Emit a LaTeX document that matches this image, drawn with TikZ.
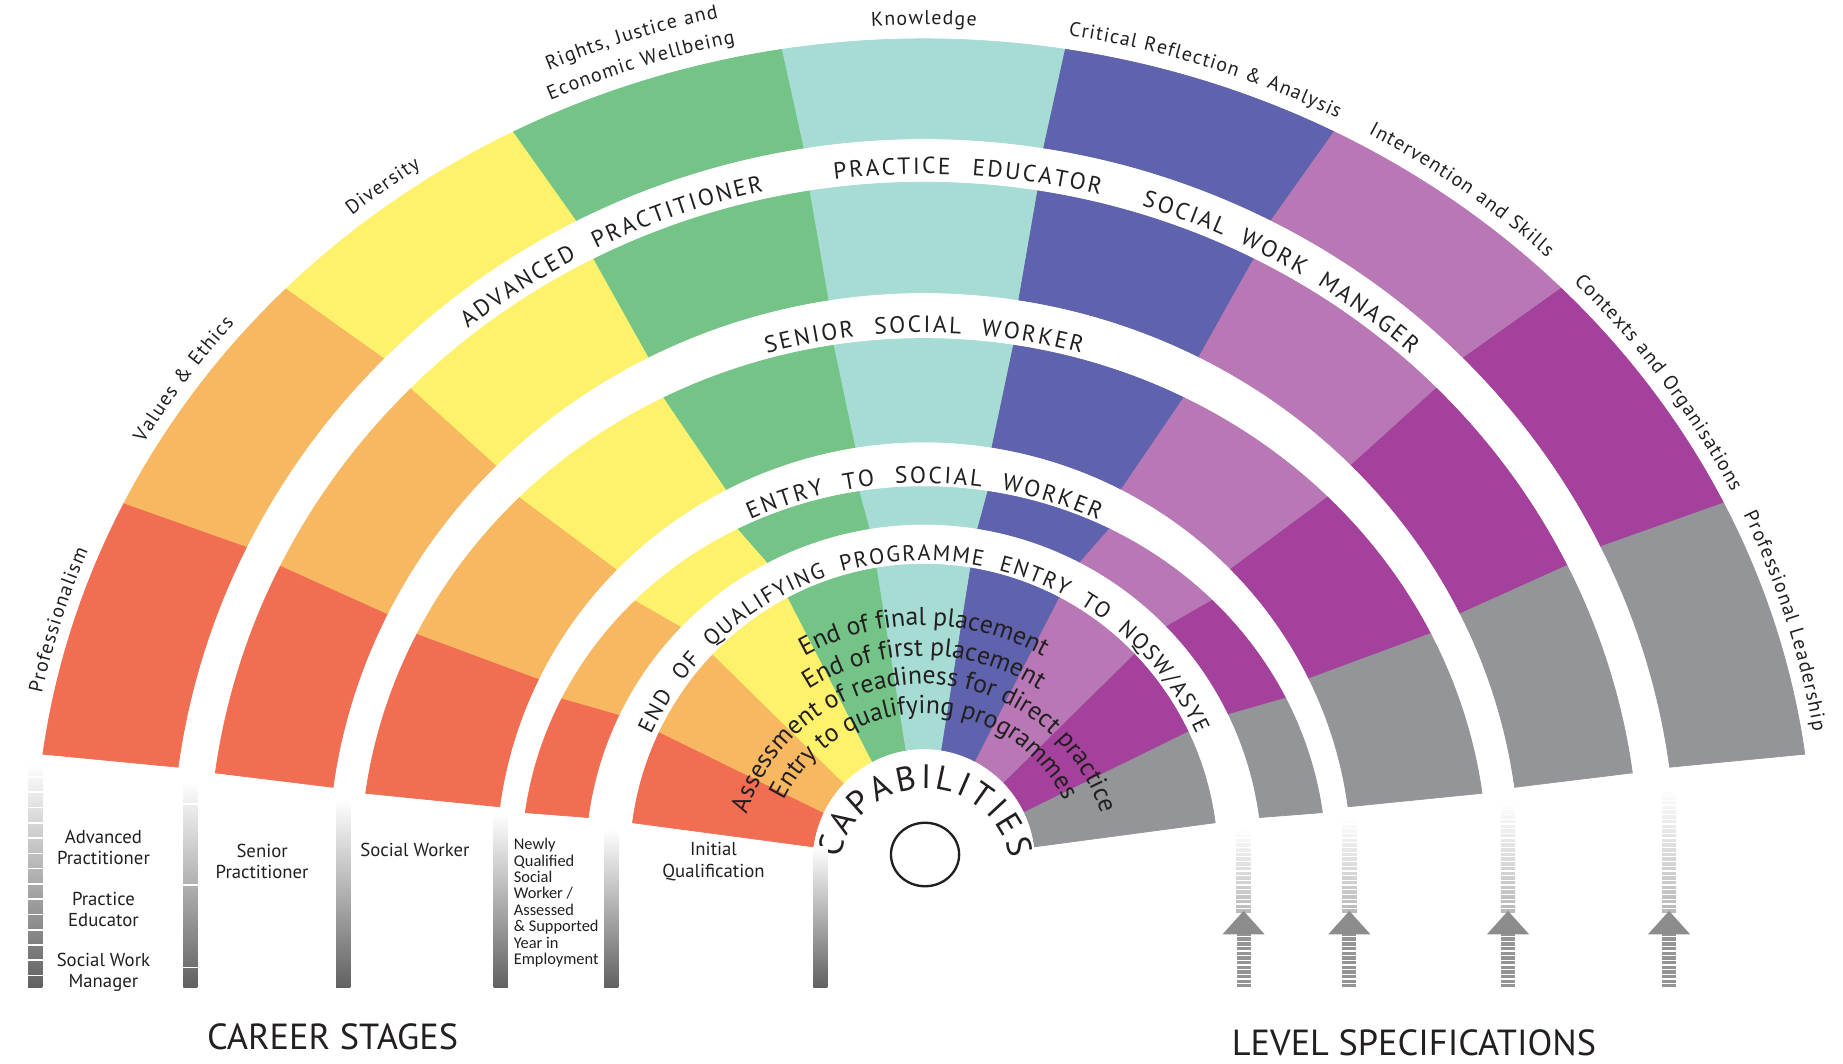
\documentclass[tikz,border=0pt]{standalone}
\usepackage{fontspec}
\setmainfont{PT Sans}
\setsansfont{PT Sans}
\newfontfamily\pcfCond{Carlito}
\definecolor{cRed}{HTML}{F26E52}
\definecolor{cOrange}{HTML}{F8B862}
\definecolor{cYellow}{HTML}{FEF16B}
\definecolor{cGreen}{HTML}{74C487}
\definecolor{cTeal}{HTML}{A6DCD3}
\definecolor{cIndigo}{HTML}{5F62AD}
\definecolor{cLilac}{HTML}{B878B5}
\definecolor{cPurple}{HTML}{A4419C}
\definecolor{cGray}{HTML}{939598}
\definecolor{cText}{HTML}{231F20}
\newcommand\pcfDom{\fontsize{17}{17}\selectfont}
\newcommand\pcfRing{\fontsize{20}{20}\selectfont}
\newcommand\pcfRingS{\fontsize{19}{19}\selectfont}
\newcommand\pcfInner{\fontsize{22}{22}\selectfont}
\newcommand\pcfCap{\fontsize{29}{29}\selectfont}

\ExplSyntaxOn
\fp_new:N \l__pcf_t_fp
\fp_new:N \l__pcf_w_fp
\fp_new:N \l__pcf_tot_fp
\fp_new:N \l__pcf_tc_fp
\box_new:N \l__pcf_char_box
\tl_new:N \l__pcf_font_tl
\tl_new:N \l__pcf_x_tl
\tl_new:N \l__pcf_y_tl
\tl_new:N \l__pcf_r_tl
\cs_new_protected:Npn \__pcf_measure:n #1
  {
    \hbox_set:Nn \l__pcf_char_box
      { \pgfinterruptpicture \l__pcf_font_tl #1 \endpgfinterruptpicture }
    \fp_set:Nn \l__pcf_w_fp { \dim_to_fp:n { \box_wd:N \l__pcf_char_box } * 72 / 72.27 }
  }
% #1 x radius, #2 y radius, #3 middle angle, #4 extra letter space,
% #5 extra word space, #6 font, #7 text  (text runs clockwise, baseline on the ellipse)
\NewDocumentCommand \ArcText { m m m m m m m }
  {
    \tl_set:Nn \l__pcf_font_tl {#6}
    \fp_zero:N \l__pcf_tot_fp
    \str_map_inline:nn {#7}
      {
        \__pcf_measure:n {##1}
        \fp_add:Nn \l__pcf_tot_fp { \l__pcf_w_fp + #4 }
        \tl_if_blank:nT {##1} { \fp_add:Nn \l__pcf_tot_fp {#5} }
      }
    \fp_sub:Nn \l__pcf_tot_fp {#4}
    \fp_set:Nn \l__pcf_t_fp
      { #3 + (\l__pcf_tot_fp / 2) / sqrt( ((#1)*sind(#3))^2 + ((#2)*cosd(#3))^2 ) * 180 / pi }
    \str_map_inline:nn {#7}
      {
        \__pcf_measure:n {##1}
        \tl_if_blank:nT {##1} { \fp_add:Nn \l__pcf_w_fp {#5} }
        \fp_set:Nn \l__pcf_tc_fp
          { \l__pcf_t_fp - (\l__pcf_w_fp / 2) / sqrt( ((#1)*sind(\l__pcf_t_fp))^2 + ((#2)*cosd(\l__pcf_t_fp))^2 ) * 180 / pi }
        \tl_if_blank:nF {##1}
          {
            \tl_set:Nx \l__pcf_x_tl { \fp_eval:n { round( (#1)*cosd(\l__pcf_tc_fp), 3) } }
            \tl_set:Nx \l__pcf_y_tl { \fp_eval:n { round( (#2)*sind(\l__pcf_tc_fp), 3) } }
            \tl_set:Nx \l__pcf_r_tl { \fp_eval:n { round( atand( -(#2)*cosd(\l__pcf_tc_fp), (#1)*sind(\l__pcf_tc_fp) ), 3) } }
            \node[anchor=base, inner~sep=0pt, text=cText, rotate=\l__pcf_r_tl] at (\l__pcf_x_tl,\l__pcf_y_tl) {\l__pcf_font_tl ##1};
          }
        \fp_set:Nn \l__pcf_t_fp
          { \l__pcf_t_fp - (\l__pcf_w_fp + #4) / sqrt( ((#1)*sind(\l__pcf_tc_fp))^2 + ((#2)*cosd(\l__pcf_tc_fp))^2 ) * 180 / pi }
      }
  }
\ExplSyntaxOff

\tikzset{
  barshade/.style={top color=white, bottom color=black!62},
  lowlabel/.style={align=center, font=\fontsize{16}{18}\selectfont, text=cText},
  bigtitle/.style={font=\fontsize{31}{31}\selectfont, text=cText},
}
\begin{document}
\begin{tikzpicture}[x=1bp,y=1bp]
\useasboundingbox (0,0) rectangle (1568,905);
\fill[white] (0,0) rectangle (1568,905);
\begin{scope}[shift={(786,172)}]
  % five elliptical bands, nine domains each
  \foreach \ao/\bo/\ai/\bi in {756/700/640/615, 608/578/507/484, 479/445/364/357, 342/319/288/287, 250/253/95/96}{
    \foreach \col [count=\k] in {cRed,cOrange,cYellow,cGreen,cTeal,cIndigo,cLilac,cPurple,cGray}{
      \pgfmathsetmacro\ts{172.5-(\k-1)*165/9}
      \pgfmathsetmacro\te{\ts-165/9}
      \fill[\col, draw=\col, line width=0.6] ({\ao*cos(\ts)},{\bo*sin(\ts)})
        arc[start angle=\ts, end angle=\te, x radius=\ao, y radius=\bo]
        -- ({\ai*cos(\te)},{\bi*sin(\te)})
        arc[start angle=\te, end angle=\ts, x radius=\ai, y radius=\bi] -- cycle;
    }
  }
  % domain labels
  \ArcText{766}{712}{163.3}{1}{0}{\pcfDom}{Professionalism}
  \ArcText{766}{712}{145}{1}{0}{\pcfDom}{Values & Ethics}
  \ArcText{766}{712}{126.7}{1}{0}{\pcfDom}{Diversity}
  \ArcText{766}{712}{108.3}{1}{0}{\pcfDom}{Economic Wellbeing}
  \ArcText{790}{736}{108.3}{1}{0}{\pcfDom}{Rights, Justice and}
  \ArcText{766}{712}{90}{1}{0}{\pcfDom}{Knowledge}
  \ArcText{766}{712}{71.7}{1}{0}{\pcfDom}{Critical Reflection & Analysis}
  \ArcText{766}{712}{53.3}{1}{0}{\pcfDom}{Intervention and Skills}
  \ArcText{766}{712}{35}{1}{0}{\pcfDom}{Contexts and Organisations}
  \ArcText{766}{712}{16.7}{1}{0}{\pcfDom}{Professional Leadership}
  % ring labels in the white gaps
  \ArcText{614}{585}{116}{2}{9}{\pcfRing}{ADVANCED PRACTITIONER}
  \ArcText{614}{585}{86.5}{2}{9}{\pcfRing}{PRACTICE EDUCATOR}
  \ArcText{614}{585}{60}{2}{6}{\pcfRing}{SOCIAL WORK MANAGER}
  \ArcText{482}{450}{90}{2}{8}{\pcfRing}{SENIOR SOCIAL WORKER}
  \ArcText{345}{322}{90}{2}{8}{\pcfRing}{ENTRY TO SOCIAL WORKER}
  \ArcText{256}{256}{90}{1.5}{6}{\pcfRingS}{END OF QUALIFYING PROGRAMME ENTRY TO NQSW/ASYE}
  % texts inside the first band
  \begin{scope}[shift={(0,-7)}]
    \ArcText{208}{208}{90}{0}{0}{\pcfInner}{End of final placement}
    \ArcText{182}{182}{90}{0}{0}{\pcfInner}{End of first placement}
    \ArcText{158}{158}{90}{0}{0}{\pcfInner}{Assessment of readiness for direct practice}
    \ArcText{133}{133}{90}{0}{0}{\pcfInner}{Entry to qualifying programmes}
  \end{scope}
  \begin{scope}[shift={(1,-12)}]
    \ArcText{74}{74}{90}{3}{0}{\pcfCap}{CAPABILITIES}
  \end{scope}
\end{scope}
\draw[line width=2, cText] (787,178) ellipse[x radius=29, y radius=27];

% career stage bars
\foreach \bx/\bt in {24/255, 156/240, 286/225, 420/213, 514/200, 692/185}{
  \shade[barshade] (\bx,65) rectangle (\bx+12,\bt);
}
\foreach \yy in {75,88,...,250}{ \draw[white, line width=1.4] (23,\yy) -- (37,\yy); }
\foreach \yy in {82,152,221}{ \draw[white, line width=1.4] (155,\yy) -- (169,\yy); }

\node[lowlabel] (advp) at (88,184) {Advanced\\Practitioner};
\node[lowlabel] (prae) at (88,131) {Practice\\Educator};
\node[lowlabel] (swm) at (88,78) {Social Work\\Manager};
\node[lowlabel] (senp) at (223,172) {Senior\\Practitioner};
\node[lowlabel] (socw) at (353,182) {Social Worker};
\node[anchor=north west, align=left, inner sep=0, font=\pcfCond\fontsize{14}{14}\selectfont, text=cText] (nqsw) at (437,192)
  {Newly\\Qualified\\Social\\Worker /\\Assessed\\\& Supported\\Year in\\Employment};
\node[lowlabel] (iniq) at (607,172) {Initial\\Qualification};
\node[bigtitle] (cs) at (283,23) {CAREER STAGES};
\node[bigtitle] (ls) at (1203,18) {LEVEL SPECIFICATIONS};

% level specification arrows
\foreach \ax/\at in {1058/200, 1148/210, 1283/222, 1420/235}{
  \shade[top color=white, bottom color=black!28] (\ax-6,128) rectangle (\ax+6,\at);
  \fill[black!42] (\ax-6,65) rectangle (\ax+6,110);
  \foreach \yy in {68,72,...,\at}{ \draw[white, line width=1.1] (\ax-7,\yy) -- (\ax+7,\yy); }
  \fill[black!45] (\ax,130) -- (\ax+18,110) -- (\ax-18,110) -- cycle;
}
\end{tikzpicture}
\end{document}
